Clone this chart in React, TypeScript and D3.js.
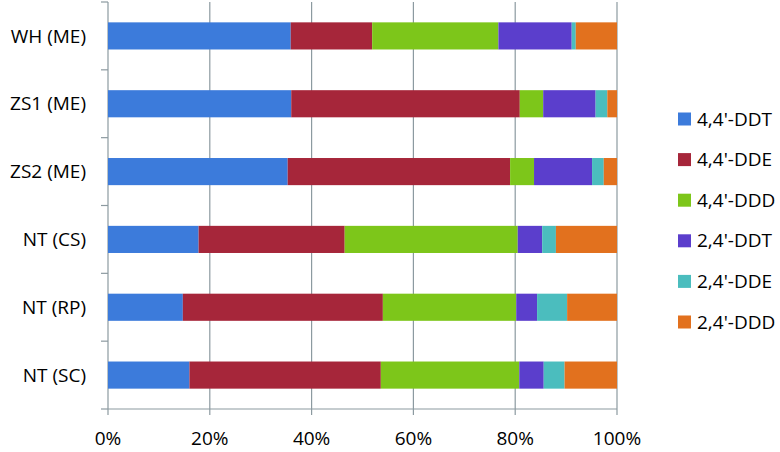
import React from "react";
import * as d3 from "d3";

const categories = ["WH (ME)", "ZS1 (ME)", "ZS2 (ME)", "NT (CS)", "NT (RP)", "NT (SC)"];
const seriesNames = ["4,4'-DDT", "4,4'-DDE", "4,4'-DDD", "2,4'-DDT", "2,4'-DDE", "2,4'-DDD"];
const seriesColors = ["#3C7BDB", "#A6263A", "#7DC61A", "#5B3ECC", "#4BBDBE", "#E2711E"];
const ddt44 = [35.9, 36.0, 35.3, 17.8, 14.7, 16.0];
const dde44 = [16.0, 44.9, 43.7, 28.7, 39.3, 37.6];
const ddd44 = [24.8, 4.6, 4.7, 34.0, 26.2, 27.2];
const ddt24 = [14.4, 10.3, 11.4, 4.8, 4.1, 4.8];
const dde24 = [0.8, 2.3, 2.3, 2.7, 5.9, 4.1];
const ddd24 = [8.1, 1.9, 2.6, 12.0, 9.8, 10.3];
const xTicks = [0, 0.2, 0.4, 0.6, 0.8, 1.0];

const W = 780;
const H = 452;
const left = 108;
const right = 617;
const top = 2;
const bottom = 409;
const FONT = "Open Sans, sans-serif";
const AX = "#8C9AA0";
const FS = 19;

export default function App() {
  const seriesData = [ddt44, dde44, ddd44, ddt24, dde24, ddd24];
  const rows = categories.map((c, i) => {
    const o: any = { cat: c };
    seriesNames.forEach((s, k) => (o[s] = seriesData[k][i]));
    return o;
  });
  const stack = d3.stack<any>().keys(seriesNames).offset(d3.stackOffsetExpand);
  const layers = stack(rows);
  const x = d3.scaleLinear().domain([0, 1]).range([left, right]);
  const y = d3.scaleBand().domain(categories).range([top, bottom]).paddingInner(0.6).paddingOuter(0.3);
  const band = (bottom - top) / categories.length;
  const fmt = d3.format(".0%");
  const legendY = d3.scalePoint().domain(seriesNames).range([119, 322]);

  return (
    <svg width={W} height={H} style={{ position: "absolute", left: 0, top: 0, background: "#fff" }} fontFamily={FONT}>
      {xTicks.map((t) => (
        <line key={"g" + t} x1={x(t)} x2={x(t)} y1={top} y2={bottom + 6} stroke={AX} strokeWidth={1.2} />
      ))}
      <line x1={left} x2={right} y1={bottom} y2={bottom} stroke={AX} strokeWidth={1.2} />
      <line x1={left - 7} x2={left} y1={bottom} y2={bottom} stroke={AX} strokeWidth={1.2} />
      {categories.map((c, i) => (
        <line key={"t" + c} x1={left - 7} x2={left} y1={top + band * i} y2={top + band * i} stroke={AX} strokeWidth={1.2} />
      ))}
      {layers.map((layer, k) =>
        layer.map((d, i) => (
          <rect
            key={k + "-" + i}
            x={x(d[0])}
            width={x(d[1]) - x(d[0])}
            y={y(categories[i])}
            height={y.bandwidth()}
            fill={seriesColors[k]}
          />
        ))
      )}
      {xTicks.map((t) => (
        <text key={"xl" + t} x={x(t)} y={445} textAnchor="middle" fontSize={FS} fill="#000">
          {fmt(t)}
        </text>
      ))}
      {categories.map((c) => (
        <text key={"yl" + c} x={86} y={(y(c) as number) + y.bandwidth() / 2} dy="0.35em" textAnchor="end" fontSize={FS} fill="#000">
          {c}
        </text>
      ))}
      {seriesNames.map((s, k) => (
        <g key={"lg" + s}>
          <rect x={678} y={(legendY(s) as number) - 6.5} width={13} height={13} fill={seriesColors[k]} />
          <text x={697} y={legendY(s) as number} dy="0.35em" fontSize={FS} fill="#000">
            {s}
          </text>
        </g>
      ))}
    </svg>
  );
}
